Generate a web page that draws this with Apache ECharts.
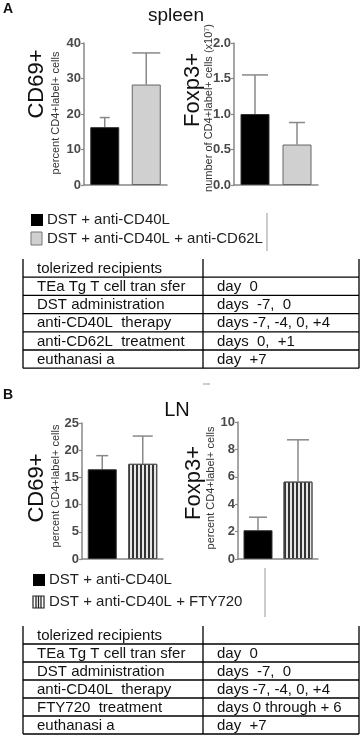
<!DOCTYPE html>
<html><head><meta charset="utf-8">
<script src="https://cdn.jsdelivr.net/npm/echarts@6/dist/echarts.min.js"></script>
<style>html,body{margin:0;padding:0;background:#fff}#c{width:360px;height:736px}</style>
</head><body><div id="c"></div>
<script>
// ---- data ----
const groupsA = ['DST + anti-CD40L', 'DST + anti-CD40L + anti-CD62L'];
const groupsB = ['DST + anti-CD40L', 'DST + anti-CD40L + FTY720'];
const spleenCD69 = [16.3, 28.3];
const spleenCD69Err = [2.7, 8.9];
const spleenFoxp3 = [1.0, 0.57];
const spleenFoxp3Err = [0.55, 0.31];
const lnCD69 = [16.5, 17.5];
const lnCD69Err = [2.5, 5.1];
const lnFoxp3 = [2.1, 5.65];
const lnFoxp3Err = [0.95, 3.05];
const tableColsA = ['tolerized recipients', 'TEa Tg T cell tran sfer', 'DST administration', 'anti-CD40L  therapy', 'anti-CD62L  treatment', 'euthanasi a'];
const tableDaysA = ['', 'day  0', 'days  -7,  0', 'days -7, -4, 0, +4', 'days  0,  +1', 'day  +7'];
const tableColsB = ['tolerized recipients', 'TEa Tg T cell tran sfer', 'DST administration', 'anti-CD40L  therapy', 'FTY720  treatment', 'euthanasi a'];
const tableDaysB = ['', 'day  0', 'days  -7,  0', 'days -7, -4, 0, +4', 'days 0 through + 6', 'day  +7'];

const FONT = '"Liberation Sans", Arial, sans-serif';
const chart = echarts.init(document.getElementById('c'), null, {renderer: 'canvas'});

const stripe = {symbol: 'rect', symbolSize: 1, dashArrayX: [1.6, 1.9], dashArrayY: [4, 0], color: '#333', rotation: 0};
const fills = {
  A: [{color: '#000', borderColor: '#333', borderWidth: 1}, {color: '#d0d0d0', borderColor: '#666', borderWidth: 1}],
  B: [{color: '#000', borderColor: '#333', borderWidth: 1}, {color: '#e6e6e6', borderColor: '#555', borderWidth: 1, decal: stripe}]
};

const grids = [
  {left: 84, top: 43, width: 83, height: 142},
  {left: 234, top: 43, width: 84, height: 142},
  {left: 82, top: 423, width: 81, height: 136},
  {left: 238, top: 422, width: 80, height: 137}
];
const axesY = [
  {max: 40, interval: 10, dec: 0},
  {max: 2, interval: 0.5, dec: 1},
  {max: 25, interval: 5, dec: 0},
  {max: 10, interval: 2, dec: 0}
];
const panels = [
  {cats: groupsA, vals: spleenCD69, errs: spleenCD69Err, fill: fills.A, caps: [5, 14]},
  {cats: groupsA, vals: spleenFoxp3, errs: spleenFoxp3Err, fill: fills.A, caps: [13, 8]},
  {cats: groupsB, vals: lnCD69, errs: lnCD69Err, fill: fills.B, caps: [6, 10]},
  {cats: groupsB, vals: lnFoxp3, errs: lnFoxp3Err, fill: fills.B, caps: [9, 11]}
];

const xAxis = panels.map((p, i) => ({
  type: 'category', gridIndex: i, data: p.cats,
  axisLine: {lineStyle: {color: '#888', width: 1.5}},
  axisTick: {show: false}, axisLabel: {show: false}
}));
const yAxis = axesY.map((a, i) => ({
  type: 'value', gridIndex: i, min: 0, max: a.max, interval: a.interval,
  axisLine: {show: true, lineStyle: {color: '#888', width: 1.5}},
  axisTick: {show: true, length: 3, lineStyle: {color: '#888', width: 1.2}},
  splitLine: {show: false},
  axisLabel: {color: '#4a4a4a', fontSize: 13, fontWeight: 'bold', fontFamily: FONT, margin: 3,
    formatter: v => v.toFixed(a.dec)}
}));

const series = [];
panels.forEach((p, i) => {
  series.push({
    type: 'bar', xAxisIndex: i, yAxisIndex: i, barWidth: 29,
    data: p.vals.map((v, k) => ({value: v, itemStyle: p.fill[k]})),
    silent: true
  });
  series.push({
    type: 'custom', xAxisIndex: i, yAxisIndex: i, silent: true, z: 1,
    data: p.vals.map((v, k) => [k, v, v + p.errs[k]]),
    renderItem: (params, api) => {
      const b = api.coord([api.value(0), api.value(1)]);
      const t = api.coord([api.value(0), api.value(2)]);
      const cap = p.caps[params.dataIndex];
      return {type: 'group', children: [
        {type: 'line', shape: {x1: b[0], y1: b[1], x2: t[0], y2: t[1]}, style: {stroke: '#888', lineWidth: 1.5}},
        {type: 'line', shape: {x1: t[0] - cap, y1: t[1], x2: t[0] + cap, y2: t[1]}, style: {stroke: '#888', lineWidth: 1.5}}
      ]};
    }
  });
});

// ---- graphic: titles, axis names, legends, tables ----
const g = [];
function txt(x, y, text, size, opt = {}) {
  g.push(Object.assign({type: 'text', x, y, rotation: opt.rot || 0, silent: true,
    style: {text, fontSize: size, fontFamily: FONT, fill: opt.color || '#111',
      fontWeight: opt.bold ? 'bold' : 'normal', align: opt.align || 'left', verticalAlign: 'middle'}}));
}
function line(x1, y1, x2, y2, color = '#000', w = 1.3) {
  g.push({type: 'line', silent: true, shape: {x1, y1, x2, y2}, style: {stroke: color, lineWidth: w}});
}
const R = Math.PI / 2;
txt(3, 9, 'A', 14, {bold: true});
txt(3, 395, 'B', 14, {bold: true});
txt(176, 16, 'spleen', 19, {align: 'center'});
txt(177, 410, 'LN', 20, {align: 'center'});

txt(37, 84, 'CD69+', 22, {rot: R, align: 'center'});
txt(56, 113, 'percent CD4+label+ cells', 11, {rot: R, align: 'center', color: '#333'});
txt(193, 90, 'Foxp3+', 22, {rot: R, align: 'center'});
txt(209, 108, 'number of CD4+label+ cells (x10\u2077)', 11, {rot: R, align: 'center', color: '#333'});
txt(37, 488, 'CD69+', 22, {rot: R, align: 'center'});
txt(56, 486, 'percent CD4+label+ cells', 11, {rot: R, align: 'center', color: '#333'});
txt(194, 483, 'Foxp3+', 22, {rot: R, align: 'center'});
txt(211, 488, 'percent CD4+label+ cells', 11, {rot: R, align: 'center', color: '#333'});

// legends
function legend(x, y, label, kind) {
  if (kind === 'black') {
    g.push({type: 'rect', silent: true, shape: {x, y: y - 6, width: 12, height: 12}, style: {fill: '#000'}});
  } else if (kind === 'gray') {
    g.push({type: 'rect', silent: true, shape: {x, y: y - 7, width: 11, height: 13}, style: {fill: '#d0d0d0', stroke: '#777', lineWidth: 1}});
  } else {
    g.push({type: 'rect', silent: true, shape: {x, y: y - 6, width: 11, height: 12}, style: {fill: '#fff', stroke: '#222', lineWidth: 1.2}});
    [3, 5.5, 8].forEach(d => line(x + d, y - 6, x + d, y + 6, '#222', 1.3));
  }
  txt(x + 16, y, label, 15, {color: '#222'});
}
legend(31, 220, groupsA[0], 'black');
legend(31, 239, groupsA[1], 'gray');
line(267, 213, 267, 251, '#999', 1);
legend(33, 580, groupsB[0], 'black');
legend(33, 602, groupsB[1], 'stripe');
line(265, 568, 265, 617, '#999', 1);
line(203, 384, 210, 384, '#bbb', 1.5);

function table(top, rowH, left, right, mid, col1, col2) {
  const n = col1.length;
  const bottom = top + rowH * n;
  line(left, top, left, bottom);
  line(right, top, right, bottom);
  line(mid, top, mid, bottom);
  for (let i = 1; i <= n; i++) line(left, top + rowH * i, right, top + rowH * i);
  col1.forEach((t, i) => txt(left + 14, top + rowH * i + rowH / 2 + 0.5, t, 15));
  col2.forEach((t, i) => { if (t) txt(mid + 14, top + rowH * i + rowH / 2 + 0.5, t, 15); });
}
table(259, 18.2, 23, 359, 203, tableColsA, tableDaysA);
table(626, 18, 23, 359, 203, tableColsB, tableDaysB);

chart.setOption({
  animation: false,
  backgroundColor: '#fff',
  grid: grids,
  xAxis, yAxis, series,
  graphic: g
});
</script></body></html>
